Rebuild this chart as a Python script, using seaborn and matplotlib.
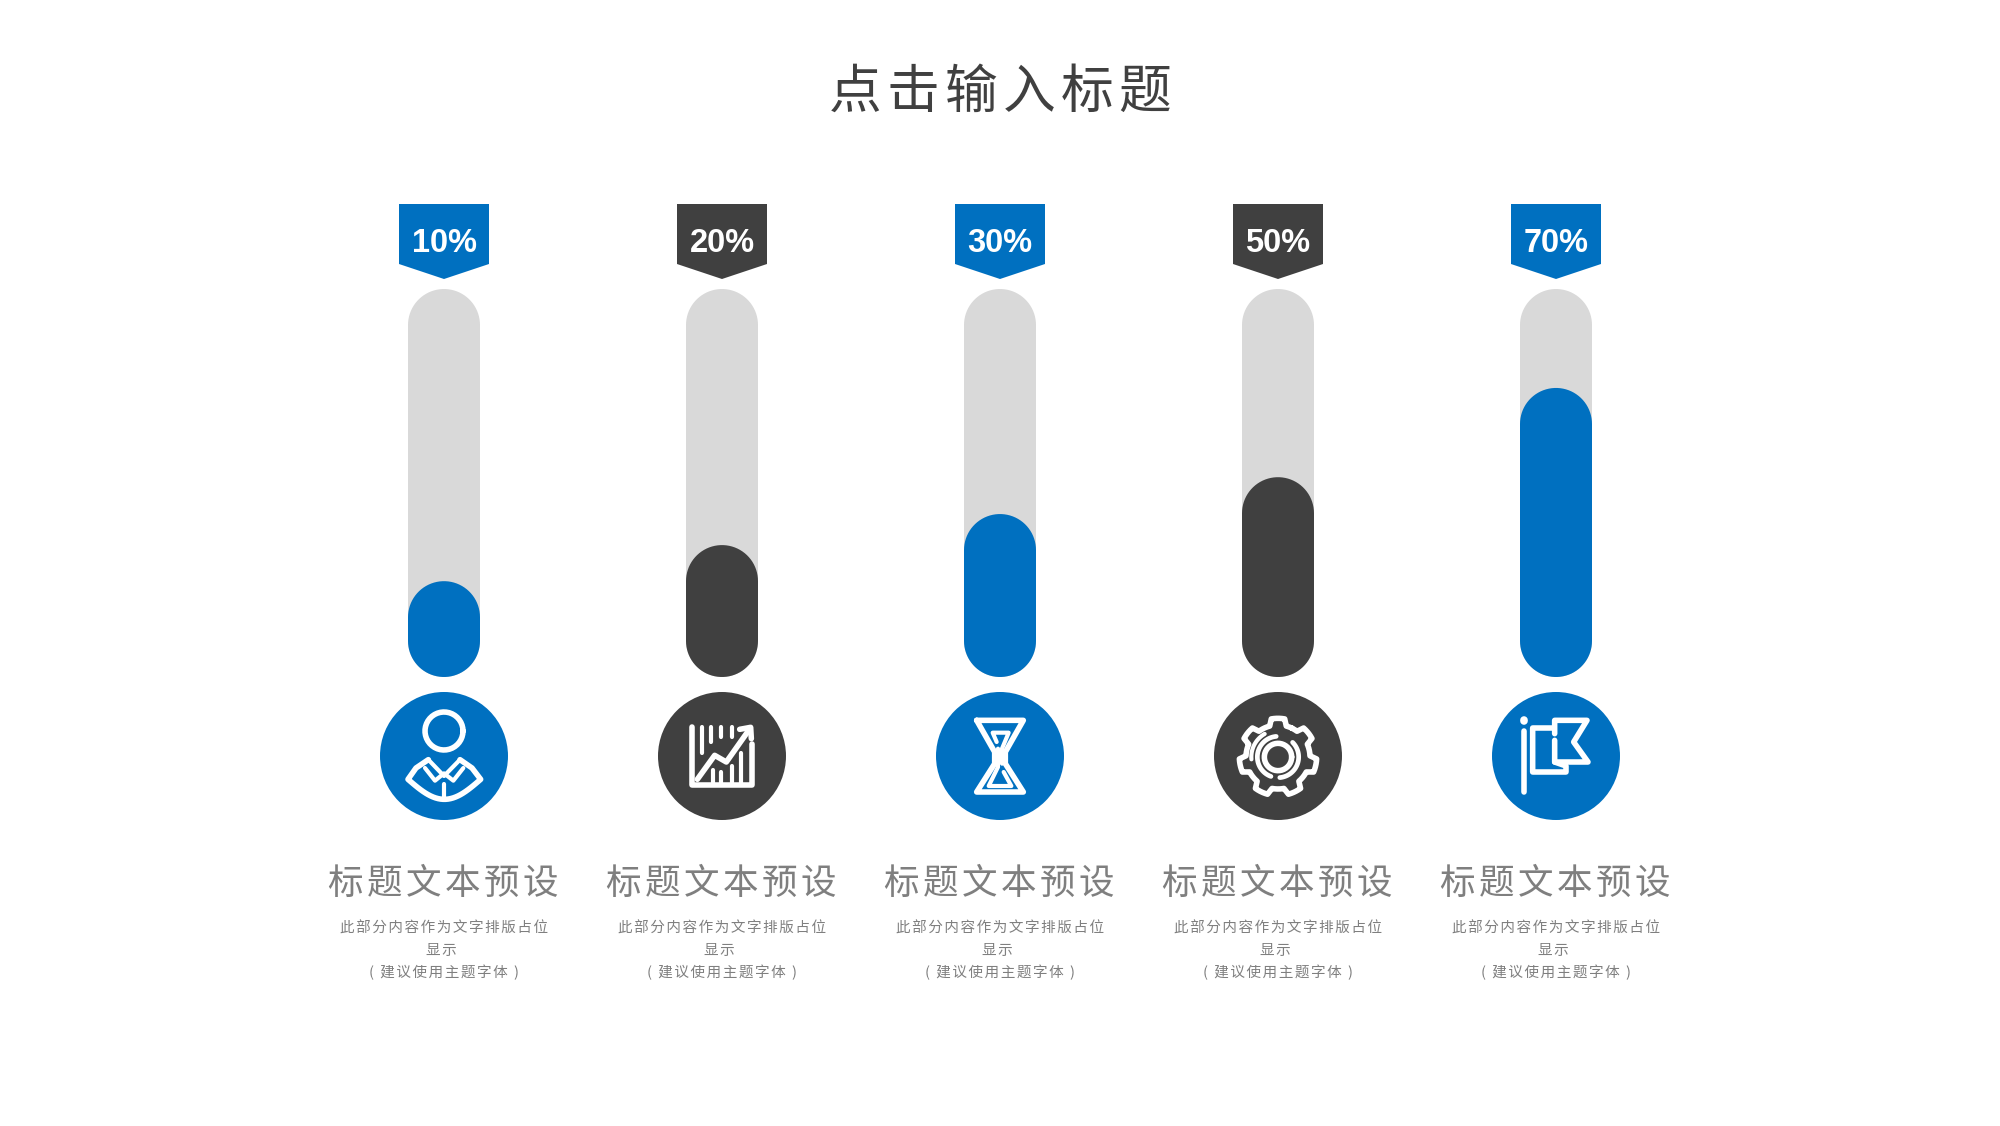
import numpy as np
import pandas as pd
import matplotlib
import matplotlib.pyplot as plt
import seaborn as sns
from matplotlib.patches import Circle, Polygon, Rectangle

matplotlib.use("Agg")

# values
labels = ["10%", "20%", "30%", "50%", "70%"]
fill_level = [24.7, 34.0, 42.0, 51.5, 74.5]   # height of the filled part, % of the track
track_level = [100, 100, 100, 100, 100]
title = "点击输入标题"
heading = "标题文本预设"
body_lines = ["此部分内容作为文字排版占位", "显示 ", "( 建议使用主题字体 )"]

BLUE = "#0070C0"
DARK = "#404040"
GREY = "#D9D9D9"
TEXT = "#7F7F7F"
colors = [BLUE, DARK, BLUE, DARK, BLUE]

X0 = 444      # pixel x of first column
STEP = 278    # pixels between columns
BASE = 677    # pixel y of track bottom
TRACK_H = 388
BAR_W = 72

sns.set_theme(style="white")
plt.rcParams["font.family"] = ["Noto Sans CJK SC", "DejaVu Sans"]


def spaced(s):
    # hair space between the glyphs, the reference is tracked out a bit
    return "\u200a".join(s)


def capsule(ax, rect, color, ypx):
    # swap a seaborn bar for a pill of the same size
    x, y, w, h = rect.get_x(), rect.get_y(), rect.get_width(), rect.get_height()
    rect.remove()
    r = BAR_W / 2 / ypx
    t = np.linspace(0, np.pi, 40)
    cx = x + w / 2
    top_x = cx + w / 2 * np.cos(t)
    top_y = y + h - r + r * np.sin(t)
    bot_x = cx - w / 2 * np.cos(t)
    bot_y = y + r - r * np.sin(t)
    ax.fill(np.r_[top_x, bot_x], np.r_[top_y, bot_y], color=color, lw=0)


def bars(ax):
    return [p for p in ax.patches if isinstance(p, Rectangle) and p.get_height() > 0]


fig = plt.figure(figsize=(20, 11.26), dpi=100, facecolor="white")

# bars, in their own scale
ax = fig.add_axes([0, 0, 1, 1])
df = pd.DataFrame({"label": labels, "track": track_level, "fill": fill_level})
bw = BAR_W / STEP
sns.barplot(data=df, x="label", y="track", color=GREY, width=bw, saturation=1, ax=ax)
for rect in bars(ax):
    capsule(ax, rect, GREY, TRACK_H / 100)
sns.barplot(data=df, x="label", y="fill", hue="label", palette=colors, width=bw,
            saturation=1, dodge=False, legend=False, ax=ax)
for rect, c in zip(bars(ax), colors):
    capsule(ax, rect, c, TRACK_H / 100)
ax.set_xlim(-X0 / STEP, (2000 - X0) / STEP)
ax.set_ylim((BASE - 1126) / (TRACK_H / 100), BASE / (TRACK_H / 100))
ax.axis("off")

# everything else in figure pixels
px = fig.add_axes([0, 0, 1, 1])
px.set_xlim(0, 2000)
px.set_ylim(1126, 0)
px.axis("off")
px.patch.set_visible(False)

LW = 4.0
CY = 756


def stroke(cx, pts, lw=LW):
    # pts are in the 3x icon crop, 0..384 with the circle centre at 192,192
    pts = np.array(pts, dtype=float)
    px.plot(cx + (pts[:, 0] - 192) / 3, CY + (pts[:, 1] - 192) / 3, color="white", lw=lw,
            solid_capstyle="round", solid_joinstyle="round", zorder=5)


def arc(a0, a1, r, c=(192, 195)):
    t = np.radians(np.linspace(a0, a1, 40))
    return np.c_[c[0] + r * np.cos(t), c[1] - r * np.sin(t)]


def icon_person(cx):
    stroke(cx, arc(0, 360, 57, (192, 117)))
    t = np.linspace(0, 1, 30)
    low = np.c_[84 + 218 * t, 262 + 60 * np.sin(np.pi * t)]
    stroke(cx, [[145, 203], [108, 228]] + low.tolist() + [[276, 228], [240, 203]])
    stroke(cx, [[145, 203], [192, 252], [240, 203]], lw=3)
    stroke(cx, [[135, 228], [165, 266], [192, 244], [220, 266], [250, 228]], lw=3)
    stroke(cx, [[192, 275], [192, 318]], lw=3)


def icon_chart(cx):
    stroke(cx, [[103, 105], [103, 280], [283, 280], [283, 155]])
    for x, y0, y1 in [(133, 105, 182), (160, 105, 150), (190, 105, 135), (222, 105, 135)]:
        stroke(cx, [[x, y0], [x, y1]], lw=3)
    for x, y0 in [(165, 235), (190, 240), (222, 222), (250, 182)]:
        stroke(cx, [[x, y0], [x, 272]], lw=3)
    stroke(cx, [[118, 262], [170, 190], [205, 210], [270, 118]])
    stroke(cx, [[245, 112], [278, 106], [280, 140]])


def icon_hourglass(cx):
    stroke(cx, [[122, 85], [262, 85], [208, 180], [208, 215], [262, 300], [122, 300],
                [176, 215], [176, 180], [122, 85]])
    stroke(cx, [[182, 150], [170, 122], [218, 122], [198, 170], [198, 215]], lw=3)
    stroke(cx, [[186, 170], [186, 225], [158, 282], [226, 282], [203, 240]], lw=3)


def icon_gear(cx):
    c = (192, 195)
    out = []
    for k in range(7):
        a = 90 + k * 360 / 7
        out += arc(a - 25.7, a - 15, 96, c).tolist()
        out += arc(a - 10, a + 10, 116, c).tolist()
        out += arc(a + 15, a + 25.7, 96, c).tolist()
    stroke(cx, out + out[:1])
    stroke(cx, arc(0, 360, 41, c))
    stroke(cx, arc(95, 250, 62, c), lw=3.4)
    stroke(cx, arc(-85, 45, 62, c), lw=3.4)
    stroke(cx, arc(120, 185, 80, c), lw=3)


def icon_flag(cx):
    stroke(cx, [[97, 118], [97, 300]])
    stroke(cx, [[97, 85], [97, 86]], lw=5.5)
    stroke(cx, [[185, 108], [122, 108], [122, 240], [222, 240], [222, 222], [188, 210]])
    stroke(cx, [[188, 125], [188, 85], [285, 85], [245, 150], [288, 210], [188, 210], [188, 145]])


icons = [icon_person, icon_chart, icon_hourglass, icon_gear, icon_flag]

px.text(1000, 92, spaced(title), color=DARK, fontsize=38, fontweight="medium", ha="center", va="center")

for i, label in enumerate(labels):
    cx = X0 + STEP * i
    c = colors[i]
    # ribbon above the track
    px.add_patch(Polygon([[cx - 45, 204], [cx + 45, 204], [cx + 45, 264], [cx, 279], [cx - 45, 264]],
                         closed=True, color=c, lw=0))
    px.text(cx, 244, label, color="white", fontsize=23.5, fontweight="bold",
            family="Liberation Sans", ha="center", va="center")
    px.add_patch(Circle((cx, CY), 64, color=c, lw=0))
    icons[i](cx)
    px.text(cx - 1, 884, spaced(heading), color=TEXT, fontsize=25.6, ha="center", va="center")
    for line, y in zip(body_lines, [928.5, 951, 972.5]):
        px.text(cx, y, spaced(line), color=TEXT, fontsize=10.5, ha="center", va="center")

fig.savefig("out.png", dpi=100, facecolor="white")
